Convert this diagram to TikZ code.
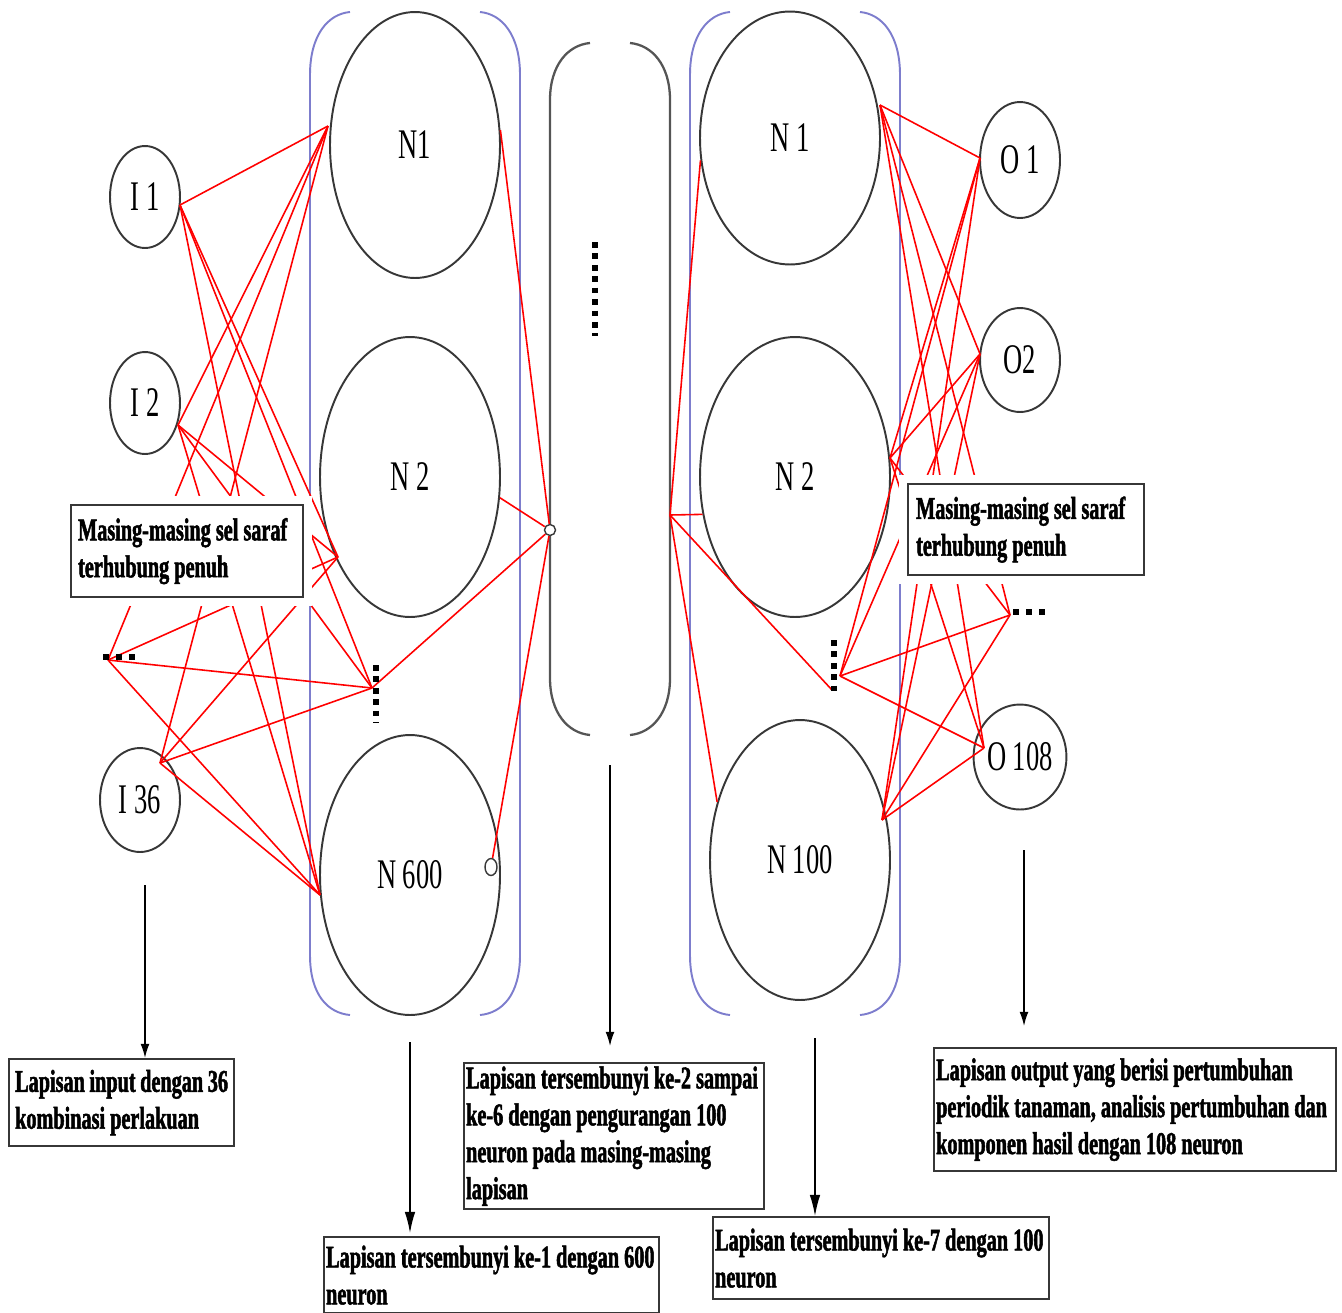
\documentclass[tikz,border=0pt]{standalone}
\usepackage{fontspec}
\setmainfont{Liberation Serif}
\newfontfamily\narrowserif[FakeStretch=0.63]{Liberation Serif}
\newfontfamily\notefont[FakeStretch=0.64, FakeBold=1.6, UprightFont=* Bold]{Liberation Serif}
\usetikzlibrary{shapes.geometric,arrows.meta}

\definecolor{layerblue}{RGB}{125,125,205}
\definecolor{linkred}{RGB}{255,0,0}
\definecolor{ringgray}{RGB}{55,55,55}

\tikzset{
  neuron/.style={draw=ringgray, line width=1.1pt, ellipse, inner sep=0pt,
    font=\narrowserif\fontsize{24}{26}\selectfont},
  joint/.style={draw=ringgray, line width=0.8pt, fill=white, ellipse, inner sep=0pt},
  link/.style={draw=linkred, line width=0.9pt},
  layerbrace/.style={draw=layerblue, line width=1.1pt},
  midbrace/.style={draw=ringgray!85, line width=1.3pt},
  notebox/.style={draw=ringgray, line width=1.3pt, fill=white, anchor=north west,
    align=left, inner ysep=1pt, font=\notefont\fontsize{18}{21}\selectfont,
    execute at begin node={\spaceskip=0pt\xspaceskip=0pt\relax}},
  maskbox/.style={notebox, preaction={draw=white, line width=10pt}},
  pointer/.style={draw=black, line width=0.8pt, -{Latex[length=8pt,width=5pt]}},
  bigpointer/.style={draw=black, line width=0.8pt, -{Latex[length=12pt,width=6pt]}},
  vsquares/.style={line width=3pt, dash pattern=on 3.3pt off 3.2pt},
  hsquares/.style={line width=3pt, dash pattern=on 3.2pt off 4.2pt},
}

\begin{document}
\begin{tikzpicture}[x=0.02cm, y=-0.02cm]
      \useasboundingbox (0,0) rectangle (1342,1312);
      % layer brackets
      \draw[layerbrace] (350,12) .. controls (328,14) and (310,35) .. (310,75) -- (310,955) .. controls (310,995) and (328,1013) .. (350,1015);
      \draw[layerbrace] (480,12) .. controls (502,14) and (520,35) .. (520,75) -- (520,955) .. controls (520,995) and (502,1013) .. (480,1015);
      \draw[layerbrace] (730,12) .. controls (708,14) and (690,35) .. (690,75) -- (690,955) .. controls (690,995) and (708,1013) .. (730,1015);
      \draw[layerbrace] (860,12) .. controls (882,14) and (900,35) .. (900,75) -- (900,955) .. controls (900,995) and (882,1013) .. (860,1015);
      \draw[midbrace] (590,43) .. controls (568,45) and (550,65) .. (550,100) -- (550,678) .. controls (550,713) and (568,733) .. (590,735);
      \draw[midbrace] (630,43) .. controls (652,45) and (670,65) .. (670,100) -- (670,678) .. controls (670,713) and (652,733) .. (630,735);
      % neurons
      \path
        (145,197) node[neuron, minimum width=1.4cm, minimum height=2.04cm] (I1) {I 1}
        (145,403) node[neuron, minimum width=1.4cm, minimum height=2.04cm] (I2) {I 2}
        (140,800) node[neuron, minimum width=1.6cm, minimum height=2.08cm] (I36) {I 36}
        (415,145) node[neuron, minimum width=3.4cm, minimum height=5.32cm] (N1) {N1}
        (410,477) node[neuron, minimum width=3.6cm, minimum height=5.6cm] (N2) {N 2}
        (410,875) node[neuron, minimum width=3.6cm, minimum height=5.6cm] (N600) {N 600}
        (790,138) node[neuron, minimum width=3.6cm, minimum height=5.06cm] (M1) {N 1}
        (795,477) node[neuron, minimum width=3.8cm, minimum height=5.6cm] (M2) {N 2}
        (800,860) node[neuron, minimum width=3.6cm, minimum height=5.6cm] (M100) {N 100}
        (1020,160) node[neuron, minimum width=1.6cm, minimum height=2.32cm] (O1) {O 1}
        (1020,360) node[neuron, minimum width=1.6cm, minimum height=2.08cm] (O2) {O2}
        (1020,757) node[neuron, minimum width=1.6cm, minimum height=2.1cm] (O108) {O 108};
      % link ends
      \coordinate (pI1) at (180,205);
      \coordinate (pI2) at (178,425);
      \coordinate (pId) at (108,660);
      \coordinate (pI36) at (160,763);
      \coordinate (pN1) at (328,126);
      \coordinate (pN2) at (338,557);
      \coordinate (pNd) at (372,688);
      \coordinate (pN600) at (320,895);
      \coordinate (pM1) at (880,105);
      \coordinate (pM2) at (890,458);
      \coordinate (pMd) at (840,676);
      \coordinate (pM100) at (882,820);
      \coordinate (pO1) at (980,158);
      \coordinate (pO2) at (980,354);
      \coordinate (pOd) at (1010,615);
      \coordinate (pO108) at (984,748);
      \coordinate (cR) at (670,515);
      \coordinate (qMd) at (832,690);
      \path
        (550,530) node[joint, minimum width=0.22cm, minimum height=0.22cm] (cL) {}
        (491,867) node[joint, minimum width=0.24cm, minimum height=0.34cm] (sN600) {};
      \begin{scope}[link]
        \draw (pI1) to (pN1);
        \draw (pI1) to (pN2);
        \draw (pI1) to (pNd);
        \draw (pI1) to (pN600);
        \draw (pI2) to (pN1);
        \draw (pI2) to (pN2);
        \draw (pI2) to (pNd);
        \draw (pI2) to (pN600);
        \draw (pId) to (pN1);
        \draw (pId) to (pN2);
        \draw (pId) to (pNd);
        \draw (pId) to (pN600);
        \draw (pI36) to (pN1);
        \draw (pI36) to (pN2);
        \draw (pI36) to (pNd);
        \draw (pI36) to (pN600);
        \draw (N1.10) to (cL);
        \draw (N2.-13) to (cL);
        \draw (cL) to (pNd);
        \draw (cL) to (sN600);
        \draw (cR) to (M1.194);
        \draw (cR) to (M2.202);
        \draw (cR) to (qMd);
        \draw (cR) to (M100.145);
        \draw (pM1) to (pO1);
        \draw (pM1) to (pO2);
        \draw (pM1) to (pOd);
        \draw (pM1) to (pO108);
        \draw (pM2) to (pO1);
        \draw (pM2) to (pO2);
        \draw (pM2) to (pOd);
        \draw (pM2) to (pO108);
        \draw (pMd) to (pO1);
        \draw (pMd) to (pO2);
        \draw (pMd) to (pOd);
        \draw (pMd) to (pO108);
        \draw (pM100) to (pO1);
        \draw (pM100) to (pO2);
        \draw (pM100) to (pOd);
        \draw (pM100) to (pO108);
      \end{scope}
      % more neurons
      \draw[vsquares] (595,242) -- (595,336);
      \draw[vsquares] (376,665) -- (376,723);
      \draw[vsquares] (834,640) -- (834,694);
      \draw[hsquares] (103,657) -- (137,657);
      \draw[hsquares] (1013,612) -- (1047,612);
      % notes
      \node[maskbox, text width=4.36cm, minimum height=1.84cm, inner xsep=0.14cm] (fullL) at (70,504)
        {Masing-masing sel saraf\\terhubung penuh};
      \node[maskbox, text width=4.40cm, minimum height=1.82cm, inner xsep=0.16cm] (fullR) at (907,483)
        {Masing-masing sel saraf\\terhubung penuh};
      \node[notebox, text width=4.26cm, minimum height=1.74cm, inner xsep=0.12cm] (noteIn) at (8,1058)
        {Lapisan input dengan 36\\kombinasi perlakuan};
      \node[notebox, text width=6.62cm, minimum height=1.52cm, inner xsep=0.04cm] (noteH1) at (323,1236)
        {Lapisan tersembunyi ke-1 dengan 600\\neuron};
      \node[notebox, text width=5.92cm, minimum height=2.92cm, inner xsep=0.04cm] (noteHm) at (463,1062)
        {Lapisan tersembunyi ke-2 sampai\\ke-6 dengan pengurangan 100\\neuron pada masing-masing\\lapisan};
      \node[notebox, text width=6.64cm, minimum height=1.64cm, inner xsep=0.04cm] (noteH7) at (712,1216)
        {Lapisan tersembunyi ke-7 dengan 100\\neuron};
      \node[notebox, text width=7.96cm, minimum height=2.46cm, inner xsep=0.04cm] (noteOut) at (933,1047)
        {Lapisan output yang berisi pertumbuhan\\periodik tanaman, analisis pertumbuhan dan\\komponen hasil dengan 108 neuron};
      % pointers
      \coordinate (aIn) at (145,885);
      \coordinate (aH1) at (410,1042);
      \coordinate (aHm) at (610,765);
      \coordinate (aH7) at (815,1038);
      \coordinate (aOut) at (1024,850);
      \draw[pointer] (aIn) -- (aIn |- noteIn.north);
      \draw[bigpointer, shorten >=0.06cm] (aH1) -- (aH1 |- noteH1.north);
      \draw[pointer, shorten >=0.32cm] (aHm) -- (aHm |- noteHm.north);
      \draw[bigpointer] (aH7) -- (aH7 |- noteH7.north);
      \draw[pointer, shorten >=0.42cm] (aOut) -- (aOut |- noteOut.north);
    \end{tikzpicture}
\end{document}
